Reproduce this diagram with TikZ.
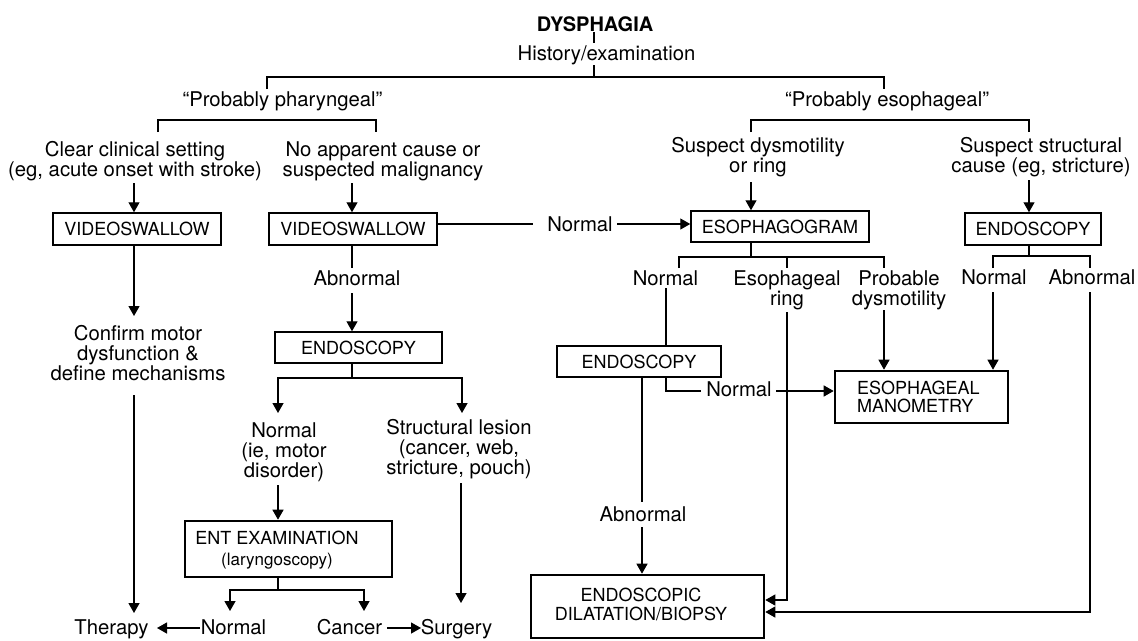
\documentclass[tikz,border=0pt]{standalone}
\usepackage{fontspec}
\setmainfont{TeX Gyre Heros}
\usetikzlibrary{arrows.meta}
\begin{document}
\begin{tikzpicture}[x=1pt,y=-1pt,
  txt/.style={inner sep=0pt, anchor=north, align=center, font=\fontsize{20.3}{20}\selectfont},
  ttl/.style={inner sep=0pt, anchor=north, font=\fontsize{20}{20}\selectfont\bfseries},
  bx/.style={draw, line width=1.5pt, inner sep=0pt, font=\fontsize{18}{18}\selectfont},
  tbx/.style={draw, line width=2.6pt, inner sep=0pt},
  btxt/.style={inner sep=0pt, font=\fontsize{18}{18}\selectfont},
  ln/.style={line width=1.3pt},
  arr/.style={line width=1.3pt, -{Triangle[length=10pt,width=11pt]}}
]
\lineskiplimit=-100pt
\fill[white] (0,0) rectangle (1138,640);
\useasboundingbox (0,0) rectangle (1138,640);

% ---------- text nodes ----------
\node[ttl] (title) at (595,16) {DYSPHAGIA};
\node[txt] (hist) at (606.5,45.5) {\strut History/examination};
\node[txt] (phar) at (282.5,91.5) {\strut “Probably pharyngeal”};
\node[txt] (esoph) at (887,91.5) {\strut “Probably esophageal”};
\node[txt] (clear) at (135,141.5) {\strut Clear clinical setting\\(eg, acute onset with stroke)};
\node[txt] (noapp) at (383,141.5) {\strut No apparent cause or\\suspected malignancy};
\node[txt] (susdys) at (758,137.5) {\strut Suspect dysmotility\\or ring};
\node[txt] (susstr) at (1041,137.5) {\strut Suspect structural\\cause (eg, stricture)};
\node[txt] (confirm) at (138,325.5) {\strut Confirm motor\\dysfunction \&\\define mechanisms};
\node[txt] (norm1) at (284,422.5) {\strut Normal\\(ie, motor\\disorder)};
\node[txt] (struct) at (459,419.5) {\strut Structural lesion\\(cancer, web,\\stricture, pouch)};
\node[txt] (abn1) at (357,270.5) {\strut Abnormal};
\node[txt] (nl1) at (580,216.5) {\strut Normal};
\node[txt] (egn) at (665.5,270.5) {\strut Normal};
\node[txt] (egr) at (787,270.5) {\strut Esophageal\\ring};
\node[txt] (egp) at (899,270.5) {\strut Probable\\dysmotility};
\node[txt] (enn) at (994,269.5) {\strut Normal};
\node[txt] (ena) at (1092,269.5) {\strut Abnormal};
\node[txt] (edn) at (739,381.5) {\strut Normal};
\node[txt] (eda) at (643,506.5) {\strut Abnormal};
\node[txt] (therapy) at (111.5,619.5) {\strut Therapy};
\node[txt] (entn) at (233.5,619.5) {\strut Normal};
\node[txt] (cancer) at (349.5,619.5) {\strut Cancer};
\node[txt] (surgery) at (456.5,619.5) {\strut Surgery};

% ---------- boxes ----------
\node[bx, minimum width=168pt, minimum height=32pt] (vs1) at (137,229) {VIDEOSWALLOW};
\node[bx, minimum width=168pt, minimum height=32pt] (vs2) at (353,229) {VIDEOSWALLOW};
\node[bx, minimum width=178pt, minimum height=31pt] (esog) at (780,226.5) {ESOPHAGOGRAM};
\node[bx, minimum width=136pt, minimum height=32pt] (endR) at (1033,229) {ENDOSCOPY};
\node[bx, minimum width=167pt, minimum height=31pt] (endL) at (358.5,347.5) {ENDOSCOPY};
\node[bx, minimum width=164pt, minimum height=31pt] (endM) at (639,361.5) {ENDOSCOPY};
\node[tbx, minimum width=207pt, minimum height=56pt] (ent) at (288.5,549) {};
\node[btxt, align=center, font=\fontsize{18}{21}\selectfont] (entT) at (277,550) {ENT EXAMINATION\\{\fontsize{17}{21}\selectfont(laryngoscopy)}};
\node[tbx, minimum width=173pt, minimum height=52pt] (mano) at (921.5,397) {};
\node[btxt, anchor=west, align=left] (manoT) at (857,397) {ESOPHAGEAL\\MANOMETRY};
\node[tbx, minimum width=233pt, minimum height=63pt] (dil) at (647.5,606.5) {};
\node[btxt, align=center, font=\fontsize{18}{19}\selectfont] (dilT) at (641,604.5) {ENDOSCOPIC\\DILATATION/BIOPSY};

% ---------- coordinates ----------
\coordinate (a1) at (594,32); \coordinate (a2) at (594,43); \coordinate (a3) at (594,65);
\coordinate (j0) at (594,77);
\coordinate (jL) at (267,77); \coordinate (jR) at (884,77);
\coordinate (jLd) at (267,89); \coordinate (jRd) at (884,89);
\coordinate (pL) at (158,120); \coordinate (pR) at (376,120);
\coordinate (pLd) at (158,132); \coordinate (pRd) at (376,132);
\coordinate (eL) at (751,120); \coordinate (eR) at (1029,120);
\coordinate (eLd) at (751,132); \coordinate (eRd) at (1029,132);
\coordinate (s1) at (134,183); \coordinate (s2) at (352,183);
\coordinate (s3) at (751,182); \coordinate (s4) at (1029,180);
\coordinate (s5) at (134,316); \coordinate (s6) at (134,395); \coordinate (s7) at (134,613);
\coordinate (n1a) at (533,224); \coordinate (n1b) at (617,224);
\coordinate (ab1) at (352,268); \coordinate (ab2) at (352,293);
\coordinate (k0) at (352,378); \coordinate (kL) at (278,378); \coordinate (kR) at (462,378);
\coordinate (kLd) at (278,413); \coordinate (kRd) at (462,413);
\coordinate (m1) at (278,485); \coordinate (m2) at (461,483); \coordinate (m3) at (461,603);
\coordinate (q0) at (278,590); \coordinate (qL) at (230,590); \coordinate (qR) at (364,590);
\coordinate (qLd) at (230,611); \coordinate (qRd) at (364,611);
\coordinate (r1) at (200,628); \coordinate (r2) at (157,628);
\coordinate (r3) at (387,628); \coordinate (r4) at (421,628);
\coordinate (u0) at (751,257); \coordinate (uL) at (679,257); \coordinate (uM) at (787,257); \coordinate (uR) at (884,257);
\coordinate (uLd) at (679,268); \coordinate (uMd) at (787,268); \coordinate (uRd) at (884,268);
\coordinate (v1) at (666,288); \coordinate (v2) at (787,312); \coordinate (v3) at (787,600); \coordinate (v4) at (884,310);
\coordinate (w0) at (1029,256); \coordinate (wL) at (993,256); \coordinate (wR) at (1090,256);
\coordinate (wLd) at (993,268); \coordinate (wRd) at (1090,268);
\coordinate (w1) at (993,292); \coordinate (w2) at (1090,292); \coordinate (w3) at (1090,612);
\coordinate (y1) at (666,391); \coordinate (y2) at (701,391); \coordinate (y3) at (776,391);
\coordinate (z1) at (642,502); \coordinate (z2) at (642,527);

% ---------- connectors ----------
\draw[ln] (a1) -- (a2);
\draw[ln] (a3) -- (j0);
\draw[ln] (jLd) -- (jL) -- (jR) -- (jRd);
\draw[ln] (pLd) -- (pL) -- (pR) -- (pRd);
\draw[ln] (eLd) -- (eL) -- (eR) -- (eRd);
\draw[arr] (s1) -- (vs1.north -| s1);
\draw[arr] (s2) -- (vs2.north -| s2);
\draw[arr] (s3) -- (esog.north -| s3);
\draw[arr] (s4) -- (endR.north -| s4);
\draw[arr] (vs1.south -| s5) -- (s5);
\draw[arr] (s6) -- (s7);
\draw[ln] (vs2.east |- n1a) -- (n1a);
\draw[arr] (n1b) -- (esog.west |- n1b);
\draw[ln] (vs2.south -| ab1) -- (ab1);
\draw[arr] (ab2) -- (endL.north -| ab2);
\draw[ln] (endL.south -| k0) -- (k0);
\draw[arr] (k0) -- (kL) -- (kLd);
\draw[arr] (k0) -- (kR) -- (kRd);
\draw[arr] (m1) -- (ent.north -| m1);
\draw[arr] (m2) -- (m3);
\draw[ln] (ent.south -| q0) -- (q0);
\draw[arr] (q0) -- (qL) -- (qLd);
\draw[arr] (q0) -- (qR) -- (qRd);
\draw[arr] (r1) -- (r2);
\draw[arr] (r3) -- (r4);
\draw[ln] (esog.south -| u0) -- (u0);
\draw[ln] (uLd) -- (uL) -- (uR) -- (uRd);
\draw[ln] (uM) -- (uMd);
\draw[ln] (v1) -- (endM.north -| v1);
\draw[arr] (v2) -- (v3) -- (dil.east |- v3);
\draw[arr] (v4) -- (mano.north -| v4);
\draw[ln] (endR.south -| w0) -- (w0);
\draw[ln] (wLd) -- (wL) -- (wR) -- (wRd);
\draw[arr] (w1) -- (mano.north -| w1);
\draw[arr] (w2) -- (w3) -- (dil.east |- w3);
\draw[ln] (endM.south -| y1) -- (y1) -- (y2);
\draw[arr] (y3) -- (mano.west |- y3);
\draw[ln] (endM.south -| z1) -- (z1);
\draw[arr] (z2) -- (dil.north -| z2);
\end{tikzpicture}
\end{document}
